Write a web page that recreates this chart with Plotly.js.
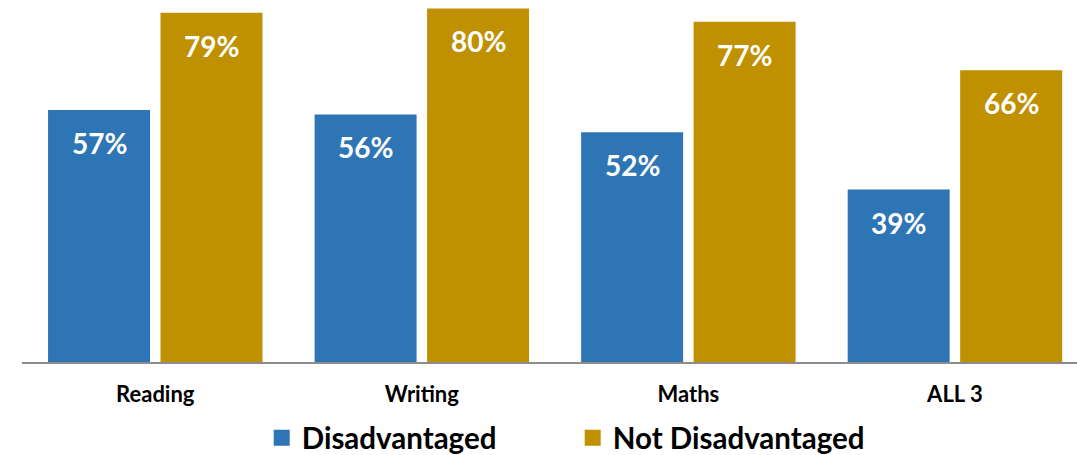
<!DOCTYPE html>
<html>
<head>
<meta charset="utf-8">
<script src="https://cdn.plot.ly/plotly-3.0.1.min.js"></script>
<style>html,body{margin:0;padding:0;background:#fff;}#chart{width:1077px;height:455px;}</style>
</head>
<body>
<div id="chart"></div>
<script>
const categories = ["Reading", "Writing", "Maths", "ALL 3"];
const seriesNames = ["Disadvantaged", "Not Disadvantaged"];
const disadvantaged = [57, 56, 52, 39];
const notDisadvantaged = [79, 80, 77, 66];
const colors = ["#2E75B6", "#BF9000"];

const FONT = "Lato, 'Open Sans', sans-serif";
const bargap = 0.156;
const seriesValues = [disadvantaged, notDisadvantaged];

const traces = seriesValues.map((vals, i) => ({
  type: "bar",
  name: seriesNames[i],
  x: categories,
  y: vals,
  marker: {color: colors[i]},
  showlegend: false,
  hoverinfo: "skip"
}));
// legend entries with larger square markers
seriesValues.forEach((vals, i) => {
  traces.push({
    type: "scatter",
    mode: "markers",
    name: seriesNames[i],
    x: [null], y: [null],
    marker: {symbol: "square", size: 18, color: colors[i]},
    showlegend: true
  });
});

const slot = (1 - bargap) / 2;
const annotations = [];
seriesValues.forEach((vals, i) => {
  vals.forEach((v, j) => {
    annotations.push({
      xref: "x", yref: "y",
      x: j + (i - 0.5) * slot,
      y: v,
      yshift: -33,
      yanchor: "middle",
      xanchor: "center",
      showarrow: false,
      text: v + "%",
      font: {family: FONT, size: 28, color: "#ffffff", weight: 700}
    });
  });
});

const layout = {
  width: 1077, height: 455,
  margin: {l: 22, r: 0, t: 0, b: 93, pad: 0, autoexpand: false},
  paper_bgcolor: "#ffffff",
  plot_bgcolor: "#ffffff",
  barmode: "group",
  bargap: bargap,
  bargroupgap: 0.0933,
  showlegend: true,
  legend: {
    orientation: "h",
    x: 0.522, xanchor: "center",
    y: -0.21, yanchor: "middle",
    font: {family: FONT, size: 29.5, color: "#000000", weight: 700},
    itemwidth: 30,
    entrywidth: 266,
    traceorder: "normal"
  },
  xaxis: {
    type: "category",
    range: [-0.5, 3.458],
    showgrid: false,
    showline: true,
    linecolor: "#8c8c8c",
    linewidth: 2,
    ticks: "outside",
    ticklen: 12,
    tickcolor: "rgba(0,0,0,0)",
    tickfont: {family: FONT, size: 22, color: "#000000", weight: 700},
    zeroline: false,
    fixedrange: true
  },
  yaxis: {
    range: [0, 81.9],
    showgrid: false,
    showticklabels: false,
    zeroline: false,
    showline: false,
    fixedrange: true
  },
  annotations: annotations
};

Plotly.newPlot("chart", traces, layout, {displayModeBar: false, staticPlot: true});
</script>
</body>
</html>
